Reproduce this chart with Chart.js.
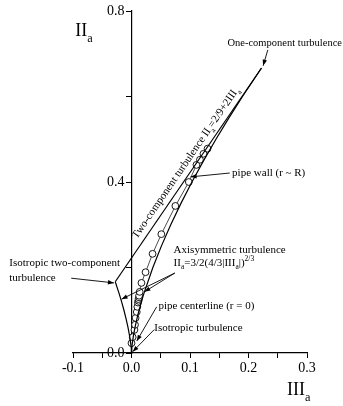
<!DOCTYPE html>
<html><head><meta charset="utf-8">
<script src="https://cdn.jsdelivr.net/npm/chart.js@4/dist/chart.umd.min.js"></script>
<style>html,body{margin:0;padding:0;background:#fff}#wrap{width:343px;height:406px;position:relative}</style>
</head><body><div id="wrap"><canvas id="c"></canvas></div>
<script>
// ---- data ----
const xTickLabels = [-0.1, 0.0, 0.1, 0.2, 0.3];
const yTickLabels = [0.0, 0.4, 0.8];
// measured anisotropy invariants across the pipe (centerline -> wall)
const measIII = [0.000, 0.002, 0.005, 0.006, 0.007, 0.009, 0.010, 0.011, 0.012, 0.012, 0.013, 0.013, 0.014, 0.017, 0.024, 0.036, 0.051, 0.075, 0.098, 0.111, 0.117, 0.123, 0.130];
const measII  = [0.023, 0.037, 0.054, 0.066, 0.082, 0.096, 0.108, 0.118, 0.122, 0.126, 0.130, 0.134, 0.143, 0.164, 0.189, 0.232, 0.278, 0.344, 0.400, 0.440, 0.452, 0.466, 0.478];
// two-component limit line II = 2/9 + 2 III
const twoCompIII = [-0.02778, 0.22222];
const twoCompII  = [0.16667, 0.66667];
// axisymmetric limit II = 3/2 (4/3 |III|)^(2/3), left branch (III<0)
const axiLeftIII = [0, -0.000144, -0.000408, -0.001155, -0.003266, -0.006, -0.009238, -0.01291, -0.01697, -0.021385, -0.027778];
const axiLeftII  = [0, 0.005, 0.01, 0.02, 0.04, 0.06, 0.08, 0.10, 0.12, 0.14, 0.16667];
// right branch (III>0)
const axiRightIII = [0, 0.000144, 0.000408, 0.001155, 0.003266, 0.006, 0.009238, 0.01291, 0.01697, 0.021385, 0.036515, 0.05103, 0.067082, 0.08453, 0.10328, 0.12324, 0.14434, 0.16652, 0.18974, 0.22222];
const axiRightII  = [0, 0.005, 0.01, 0.02, 0.04, 0.06, 0.08, 0.10, 0.12, 0.14, 0.20, 0.25, 0.30, 0.35, 0.40, 0.45, 0.50, 0.55, 0.60, 0.66667];

const pts = (xs, ys) => xs.map((x, i) => ({x, y: ys[i]}));
const FONT = '"Liberation Serif", "Times New Roman", serif';

function drawRich(ctx, parts, x, y, size) {
  let cx = x;
  for (const [t, k] of parts) {
    const s = k === 'n' ? size : size * 0.68;
    ctx.font = s + 'px ' + FONT;
    const dy = k === 'sub' ? size * 0.32 : (k === 'sup' ? -size * 0.42 : 0);
    ctx.fillText(t, cx, y + dy);
    cx += ctx.measureText(t).width;
  }
}

const notes = {
  texts: [
    {at: [0.164, 0.718], size: 10.5, parts: [['One-component turbulence', 'n']]},
    {at: [0.172, 0.414], size: 11, parts: [['pipe wall (r ~ R)', 'n']]},
    {at: [0.072, 0.235], size: 11, parts: [['Axisymmetric turbulence', 'n']]},
    {at: [0.072, 0.204], size: 11, parts: [['II', 'n'], ['a', 'sub'], ['=3/2(4/3|III', 'n'], ['a', 'sub'], ['|)', 'n'], ['2/3', 'sup']]},
    {at: [0.046, 0.103], size: 11, parts: [['pipe centerline (r = 0)', 'n']]},
    {at: [0.039, 0.051], size: 11, parts: [['Isotropic turbulence', 'n']]},
    {at: [-0.209, 0.2035], size: 11, parts: [['Isotropic two-component', 'n']]},
    {at: [-0.209, 0.168], size: 11, parts: [['turbulence', 'n']]},
    {at: [-0.096, 0.742], size: 18, parts: [['II', 'n'], ['a', 'sub']]},
    {at: [0.266, -0.098], size: 18, parts: [['III', 'n'], ['a', 'sub']]}
  ],
  arrows: [
    {from: [0.233, 0.709], to: [0.225, 0.672]},
    {from: [0.168, 0.421], to: [0.101, 0.412]},
    {from: [0.074, 0.187], to: [-0.017, 0.126]},
    {from: [0.074, 0.187], to: [0.022, 0.143]},
    {from: [0.043, 0.108], to: [0.009, 0.028]},
    {from: [0.039, 0.055], to: [0.002, 0.003]},
    {from: [-0.103, 0.175], to: [-0.030, 0.164]}
  ],
  rotated: {along: 0.018, offset: 6, size: 11,
    parts: [['Two-component turbulence II', 'n'], ['a', 'sub'], ['=2/9+2III', 'n'], ['a', 'sub']]}
};

const annot = {
  id: 'annot',
  afterDraw(chart) {
    const ctx = chart.ctx, xs = chart.scales.x, ys = chart.scales.y;
    const P = (a) => [xs.getPixelForValue(a[0]), ys.getPixelForValue(a[1])];
    ctx.save();
    ctx.fillStyle = '#000'; ctx.strokeStyle = '#000';
    // y tick labels, left of the axis line at III = 0
    ctx.font = '14px ' + FONT; ctx.textAlign = 'right'; ctx.textBaseline = 'middle';
    const ax0 = xs.getPixelForValue(0);
    for (const v of yTickLabels) ctx.fillText(v.toFixed(1), ax0 - 7, ys.getPixelForValue(v));
    ctx.textBaseline = 'alphabetic'; ctx.textAlign = 'left';
    for (const t of notes.texts) {
      const [x, y] = P(t.at);
      drawRich(ctx, t.parts, x, y, t.size);
    }
    ctx.lineWidth = 0.9;
    for (const a of notes.arrows) {
      const [x1, y1] = P(a.from), [x2, y2] = P(a.to);
      const ang = Math.atan2(y2 - y1, x2 - x1);
      ctx.beginPath(); ctx.moveTo(x1, y1); ctx.lineTo(x2, y2); ctx.stroke();
      const L = 6, W = 2.2;
      ctx.beginPath();
      ctx.moveTo(x2, y2);
      ctx.lineTo(x2 - L * Math.cos(ang) + W * Math.sin(ang), y2 - L * Math.sin(ang) - W * Math.cos(ang));
      ctx.lineTo(x2 - L * Math.cos(ang) - W * Math.sin(ang), y2 - L * Math.sin(ang) + W * Math.cos(ang));
      ctx.closePath(); ctx.fill();
    }
    // rotated label along two-component line
    const r = notes.rotated;
    const [ax, ay] = P([twoCompIII[0], twoCompII[0]]), [bx, by] = P([twoCompIII[1], twoCompII[1]]);
    const ang = Math.atan2(by - ay, bx - ax);
    const [sx, sy] = P([r.along, twoCompII[0] + 2 * (r.along - twoCompIII[0])]);
    ctx.translate(sx + r.offset * Math.sin(ang), sy - r.offset * Math.cos(ang));
    ctx.rotate(ang);
    drawRich(ctx, r.parts, 0, 0, r.size);
    ctx.restore();
  }
};

const lineDs = (data, w) => ({data, showLine: true, borderColor: '#000', borderWidth: w, pointRadius: 0, fill: false, tension: 0, clip: false});

new Chart(document.getElementById('c'), {
  type: 'scatter',
  data: {
    datasets: [
      lineDs(pts(twoCompIII, twoCompII), 1.2),
      lineDs(pts(axiLeftIII, axiLeftII), 1.2),
      lineDs(pts(axiRightIII, axiRightII), 1.2),
      {data: pts(measIII, measII), showLine: true, borderColor: '#000', borderWidth: 0.7,
       pointRadius: 3.4, pointBorderWidth: 0.9, pointBackgroundColor: '#fff', pointBorderColor: '#000', clip: false}
    ]
  },
  options: {
    responsive: true, maintainAspectRatio: false, animation: false,
    layout: {padding: {left: 73, right: 36, top: 11, bottom: 27}},
    plugins: {legend: {display: false}, tooltip: {enabled: false}},
    scales: {
      x: {
        type: 'linear', min: -0.1, max: 0.3, position: 'bottom',
        border: {display: true, color: '#000', width: 1.2},
        grid: {display: true, drawOnChartArea: false, drawTicks: true, tickLength: 5, tickColor: '#000', tickWidth: 1},
        ticks: {stepSize: 0.05, autoSkip: false, maxRotation: 0, color: '#000', padding: 2,
          font: {family: FONT, size: 14},
          callback: (v) => { const m = xTickLabels.find(t => Math.abs(t - v) < 1e-6); return m === undefined ? '' : m.toFixed(1); }},
        afterFit: (s) => { s.height = 26; }
      },
      y: {
        type: 'linear', min: 0, max: 0.8, position: {x: 0},
        border: {display: true, color: '#000', width: 1.2},
        grid: {display: true, drawOnChartArea: false, drawTicks: true, tickLength: 5, tickColor: '#000', tickWidth: 1},
        ticks: {display: false, stepSize: 0.2, autoSkip: false}
      }
    }
  },
  plugins: [annot]
});
</script>
</body></html>
